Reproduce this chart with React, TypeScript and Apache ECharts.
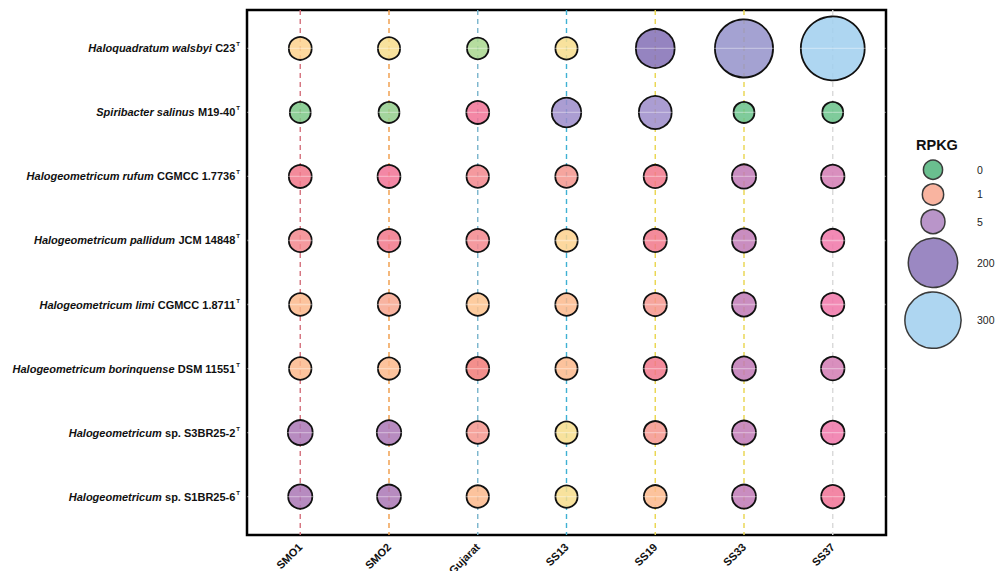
import { useEffect, useRef } from "react";
import * as echarts from "echarts";

// Sampling sites (columns)
const sites = ["SMO1", "SMO2", "Gujarat", "SS13", "SS19", "SS33", "SS37"];

// Taxa (rows): italic name part and upright strain part
const taxonNames = [
  "Haloquadratum walsbyi",
  "Spiribacter salinus",
  "Halogeometricum rufum",
  "Halogeometricum pallidum",
  "Halogeometricum limi",
  "Halogeometricum borinquense",
  "Halogeometricum",
  "Halogeometricum",
];
const strainNames = [
  "C23",
  "M19-40",
  "CGMCC 1.7736",
  "JCM 14848",
  "CGMCC 1.8711",
  "DSM 11551",
  "sp. S3BR25-2",
  "sp. S1BR25-6",
];

// RPKG per taxon (row) and site (column)
const rpkgWalsbyi = [3.5, 2.4, 1.5, 2.4, 87, 337, 442];
const rpkgSalinus = [0.9, 0.9, 3.5, 24.5, 42.8, 0.9, 0.9];
const rpkgRufum = [3.5, 3.5, 2.8, 2.8, 4.0, 6.1, 4.6];
const rpkgPallidum = [3.5, 3.5, 3.5, 2.8, 4.0, 5.5, 4.0];
const rpkgLimi = [2.8, 2.8, 2.8, 2.8, 4.0, 5.5, 4.0];
const rpkgBorinquense = [2.8, 2.4, 3.5, 2.4, 4.0, 5.5, 4.6];
const rpkgS3BR25 = [7.9, 6.8, 2.8, 2.4, 3.5, 5.5, 4.6];
const rpkgS1BR25 = [6.1, 5.5, 2.8, 2.4, 3.5, 5.5, 4.0];
const rpkgRows = [
  rpkgWalsbyi,
  rpkgSalinus,
  rpkgRufum,
  rpkgPallidum,
  rpkgLimi,
  rpkgBorinquense,
  rpkgS3BR25,
  rpkgS1BR25,
];

// Fill level per cell (index into fillPalette)
const levelWalsbyi = [5, 4, 3, 4, 18, 19, 20];
const levelSalinus = [1, 2, 12, 17, 17, 0, 0];
const levelRufum = [11, 12, 10, 9, 11, 15, 14];
const levelPallidum = [10, 11, 10, 5, 11, 15, 13];
const levelLimi = [7, 8, 6, 7, 9, 15, 13];
const levelBorinquense = [7, 7, 21, 7, 11, 15, 14];
const levelS3BR25 = [16, 16, 9, 4, 9, 15, 13];
const levelS1BR25 = [16, 16, 7, 4, 7, 15, 12];
const levelRows = [
  levelWalsbyi,
  levelSalinus,
  levelRufum,
  levelPallidum,
  levelLimi,
  levelBorinquense,
  levelS3BR25,
  levelS1BR25,
];

const fillPalette = [
  "#7fcb9b", "#8fcf98", "#a3d59d", "#b6dd9f", "#f8e29d", "#fdd89e",
  "#fdcc9f", "#fcc39d", "#f8b3a0", "#f6a59e", "#f5999e", "#f38b9b",
  "#f387a5", "#f28ab5", "#d98fbe", "#c98dc0", "#b78bc0", "#ab9dd2",
  "#9585c0", "#a4a2d2", "#aed6f1", "#f38f8c",
];

// Dashed guide colour for each site column
const siteLineColors = [
  "#d4707c", "#f09a45", "#78b4cc", "#3fb1d3", "#e9d54c", "#e9d54c", "#d9d9d9",
];

// Size legend
const legendBreaks = [0, 1, 5, 200, 300];
const legendColors = ["#6abf8f", "#f9b4a0", "#b995c9", "#9b88c2", "#aed6f1"];

const FONT = "Liberation Sans, Arial, sans-serif";
const CELL_STROKE = 1.8;
const FILL_ALPHA = 0.85;

// Outer diameter (px) of a bubble for a given RPKG value
const diameterOf = (v: number) => 20.7 + 2.14 * Math.sqrt(v);

// Fill with alpha that shows the given colour over a white panel
function translucent(hex: string, a: number) {
  const n = parseInt(hex.slice(1), 16);
  const ch = [(n >> 16) & 255, (n >> 8) & 255, n & 255].map((c) =>
    Math.max(0, Math.min(255, Math.round((c - 255 * (1 - a)) / a)))
  );
  return `rgba(${ch[0]},${ch[1]},${ch[2]},${a})`;
}

export default function App() {
  const ref = useRef<HTMLDivElement>(null);

  useEffect(() => {
    if (!ref.current) return;
    const chart = echarts.init(ref.current, undefined, { renderer: "svg" });

    const nx = sites.length;
    const ny = taxonNames.length;
    const xMin = -0.6;
    const xMax = nx - 1 + 0.6;
    const yMin = -0.6;
    const yMax = ny - 1 + 0.6;

    const cells: number[][] = [];
    rpkgRows.forEach((row, j) =>
      row.forEach((v, i) => cells.push([i, j, v, levelRows[j][i]]))
    );

    const verticalGuides = sites.map((s, i) => ({
      name: s,
      type: "line",
      data: [
        [i, yMin],
        [i, yMax],
      ],
      symbol: "none",
      silent: true,
      z: 1,
      lineStyle: { color: siteLineColors[i], width: 1.4, type: [5, 4] },
    }));

    const horizontalGuides = taxonNames.map((t, j) => ({
      name: "h" + j,
      type: "line",
      data: [
        [xMin, j],
        [xMax, j],
      ],
      symbol: "none",
      silent: true,
      z: 3,
      lineStyle: { color: "#ffffff", width: 1.3, opacity: 0.35 },
    }));

    // Size legend layout: keys stacked downward
    const legendX = 933;
    const legendLabelX = 977;
    const gap = 3;
    const diams = legendBreaks.map(diameterOf);
    const centers: number[] = [];
    diams.forEach((d, k) => {
      if (k === 0) centers.push(169.7);
      else centers.push(centers[k - 1] + diams[k - 1] / 2 + gap + d / 2);
    });
    const legendGraphics: any[] = [
      {
        type: "text",
        left: 916,
        top: 137,
        style: {
          text: "RPKG",
          font: `bold 14.5px ${FONT}`,
          fill: "#111",
        },
      },
    ];
    legendBreaks.forEach((b, k) => {
      legendGraphics.push({
        type: "circle",
        shape: { cx: legendX, cy: centers[k], r: diams[k] / 2 - 0.75 },
        style: { fill: legendColors[k], stroke: "#3a3a3a", lineWidth: 1.5 },
      });
      legendGraphics.push({
        type: "text",
        x: legendLabelX,
        y: centers[k],
        style: {
          text: String(b),
          font: `10.5px ${FONT}`,
          fill: "#222",
          verticalAlign: "middle",
          align: "left",
        },
      });
    });

    chart.setOption({
      animation: false,
      backgroundColor: "#ffffff",
      grid: {
        left: 247,
        right: 109,
        top: 10,
        bottom: 36,
        show: true,
        borderColor: "#000",
        borderWidth: 2.5,
        backgroundColor: "transparent",
        containLabel: false,
        outerBoundsMode: "none",
      },
      xAxis: {
        type: "value",
        min: xMin,
        max: xMax,
        splitLine: { show: false },
        axisLine: { show: false },
        axisTick: { show: false },
        axisLabel: {
          customValues: sites.map((_, i) => i),
          formatter: (v: number) => sites[Math.round(v)] ?? "",
          rotate: 45,
          margin: 10,
          fontSize: 11,
          fontWeight: "bold",
          fontFamily: FONT,
          color: "#111",
        },
      },
      yAxis: {
        type: "value",
        inverse: true,
        min: yMin,
        max: yMax,
        splitLine: { show: false },
        axisLine: { show: false },
        axisTick: { show: false },
        axisLabel: {
          customValues: taxonNames.map((_, j) => j),
          margin: 7,
          formatter: (v: number) => {
            const j = Math.round(v);
            if (j < 0 || j >= ny) return "";
            return `{it|${taxonNames[j]}} {up|${strainNames[j]}}{sup|T}`;
          },
          rich: {
            it: {
              fontFamily: FONT,
              fontSize: 11,
              fontWeight: "bold",
              fontStyle: "italic",
              color: "#111",
              lineHeight: 14,
            },
            up: {
              fontFamily: FONT,
              fontSize: 11,
              fontWeight: "bold",
              color: "#111",
              lineHeight: 14,
            },
            sup: {
              fontFamily: FONT,
              fontSize: 6,
              fontWeight: "bold",
              color: "#111",
              verticalAlign: "top",
              lineHeight: 8,
              padding: [0, 0, 0, 1],
            },
          },
        },
      },
      graphic: legendGraphics,
      series: [
        ...verticalGuides,
        {
          name: "RPKG",
          type: "scatter",
          data: cells,
          z: 2,
          symbol: "circle",
          symbolSize: (d: number[]) => diameterOf(d[2]) - CELL_STROKE,
          itemStyle: {
            color: (p: any) => translucent(fillPalette[p.data[3]], FILL_ALPHA),
            borderColor: "#111",
            borderWidth: CELL_STROKE,
            opacity: 1,
          },
          emphasis: { disabled: true },
        },
        ...horizontalGuides,
      ],
    });

    return () => chart.dispose();
  }, []);

  return (
    <div
      ref={ref}
      style={{
        position: "fixed",
        left: 0,
        top: 0,
        width: 995,
        height: 571,
        background: "#fff",
      }}
    />
  );
}
